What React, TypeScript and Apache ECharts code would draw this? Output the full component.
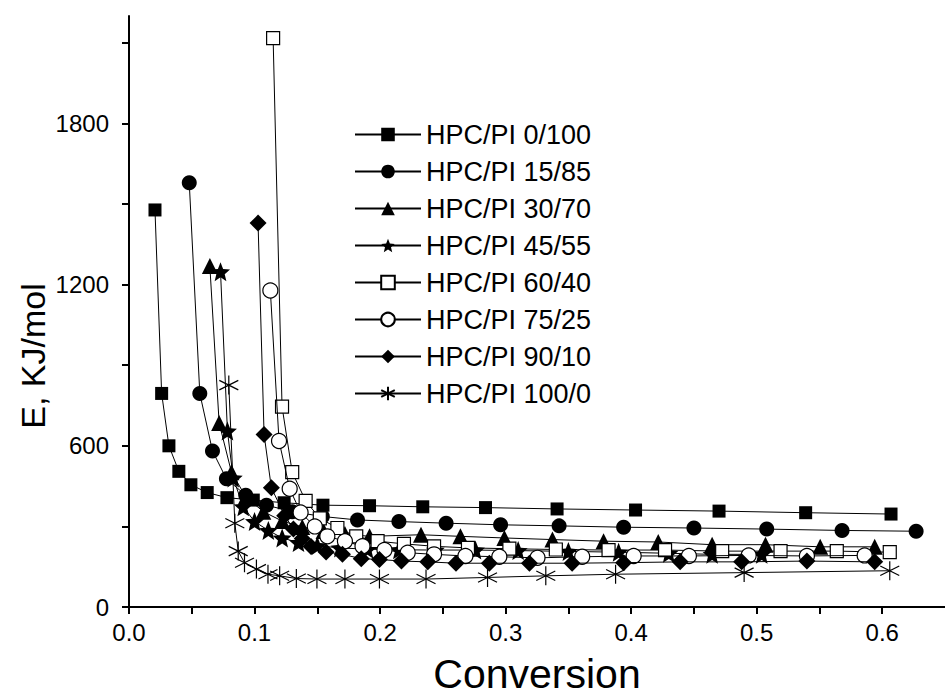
import React, { useEffect, useRef } from "react";
import * as echarts from "echarts";

const seriesNames = [
  "HPC/PI 0/100",
  "HPC/PI 15/85",
  "HPC/PI 30/70",
  "HPC/PI 45/55",
  "HPC/PI 60/40",
  "HPC/PI 75/25",
  "HPC/PI 90/10",
  "HPC/PI 100/0",
];

const x0_100 = [0.0207, 0.026, 0.0318, 0.0397, 0.0493, 0.0623, 0.078, 0.099, 0.1236, 0.1545, 0.1916, 0.234, 0.284, 0.341, 0.4035, 0.47, 0.539, 0.607];
const y0_100 = [1478, 795, 600, 505, 455, 426, 407, 398, 388, 379, 377, 373, 370, 365, 361, 357, 351, 346];

const x15_85 = [0.048, 0.0564, 0.0665, 0.0776, 0.093, 0.1095, 0.13, 0.154, 0.182, 0.215, 0.2526, 0.296, 0.3426, 0.394, 0.45, 0.508, 0.568, 0.627];
const y15_85 = [1579, 795, 581, 477, 416, 379, 355, 337, 324, 318, 312, 306, 302, 297, 294, 290, 285, 282];

const x30_70 = [0.0644, 0.0718, 0.0816, 0.093, 0.107, 0.122, 0.138, 0.155, 0.172, 0.1916, 0.2326, 0.264, 0.299, 0.3373, 0.378, 0.4216, 0.4645, 0.507, 0.5506, 0.594];
const y30_70 = [1269, 685, 502, 410, 355, 320, 298, 283, 272, 263, 269, 263, 257, 251, 245, 242, 232, 232, 224, 224];

const x45_55 = [0.0729, 0.0784, 0.083, 0.091, 0.1, 0.111, 0.122, 0.135, 0.15, 0.168, 0.19, 0.215, 0.244, 0.276, 0.31, 0.35, 0.39, 0.43, 0.4645, 0.504];
const y45_55 = [1248, 655, 480, 373, 318, 285, 257, 240, 228, 220, 215, 213, 212, 212, 210, 207, 204, 200, 196, 196];

const x60_40 = [0.1148, 0.1219, 0.13, 0.1407, 0.152, 0.166, 0.181, 0.198, 0.219, 0.243, 0.27, 0.303, 0.34, 0.382, 0.427, 0.4725, 0.519, 0.5638, 0.606];
const y60_40 = [2118, 746, 502, 395, 330, 294, 263, 245, 235, 226, 220, 217, 214, 212, 212, 208, 208, 208, 204];

const x75_25 = [0.1126, 0.1195, 0.128, 0.1367, 0.148, 0.158, 0.172, 0.186, 0.2035, 0.222, 0.243, 0.268, 0.295, 0.3254, 0.361, 0.402, 0.446, 0.4936, 0.54, 0.586];
const y75_25 = [1178, 618, 440, 352, 300, 263, 245, 226, 212, 202, 196, 190, 187, 183, 187, 190, 190, 192, 190, 192];

const x90_10 = [0.1028, 0.1076, 0.1134, 0.124, 0.131, 0.138, 0.145, 0.157, 0.17, 0.185, 0.1995, 0.217, 0.238, 0.2605, 0.287, 0.319, 0.353, 0.394, 0.439, 0.488, 0.54, 0.594];
const y90_10 = [1429, 642, 444, 340, 290, 255, 225, 205, 196, 180, 177, 171, 168, 163, 163, 163, 163, 165, 168, 168, 171, 168];

const x100_0 = [0.0795, 0.0843, 0.087, 0.092, 0.1015, 0.1107, 0.12, 0.1333, 0.1497, 0.172, 0.1995, 0.2366, 0.2856, 0.332, 0.3876, 0.49, 0.606];
const y100_0 = [826, 312, 208, 165, 141, 122, 116, 106, 104, 104, 104, 104, 110, 116, 122, 128, 135];

const xTickLabels = ["0.0", "0.1", "0.2", "0.3", "0.4", "0.5", "0.6"];
const yTickLabels = ["0", "600", "1200", "1800"];

const STAR = "path://M0,-10L2.6,-3.6L9.51,-3.09L4.2,1.4L5.88,8.09L0,4.4L-5.88,8.09L-4.2,1.4L-9.51,-3.09L-2.6,-3.6Z";
const ASTER = "path://M0,-10L0,10M-8.7,-5L8.7,5M-8.7,5L8.7,-5";

const FONT = "'Liberation Sans', Arial, Helvetica, sans-serif";

function zip(xs: number[], ys: number[]) {
  return xs.map((x, i) => [x, ys[i]]);
}

export default function App() {
  const ref = useRef<HTMLDivElement>(null);
  useEffect(() => {
    if (!ref.current) return;
    const chart = echarts.init(ref.current, undefined, { renderer: "svg" });
    const dataSets = [
      zip(x0_100, y0_100),
      zip(x15_85, y15_85),
      zip(x30_70, y30_70),
      zip(x45_55, y45_55),
      zip(x60_40, y60_40),
      zip(x75_25, y75_25),
      zip(x90_10, y90_10),
      zip(x100_0, y100_0),
    ];
    const markers = [
      { symbol: "rect", size: 13, fill: "#000" },
      { symbol: "circle", size: 15, fill: "#000" },
      { symbol: "triangle", size: 16, fill: "#000" },
      { symbol: STAR, size: 19, fill: "#000" },
      { symbol: "rect", size: 13, fill: "#fff" },
      { symbol: "circle", size: 15, fill: "#fff" },
      { symbol: "diamond", size: 17, fill: "#000" },
      { symbol: ASTER, size: 19, fill: "transparent" },
    ];
    const series = seriesNames.map((name, i) => ({
      name,
      type: "line",
      data: dataSets[i],
      symbol: markers[i].symbol,
      symbolSize: markers[i].size,
      showAllSymbol: true,
      silent: true,
      lineStyle: { color: "#000", width: 1 },
      itemStyle: {
        color: markers[i].fill,
        borderColor: "#000",
        borderWidth: markers[i].fill === "#000" ? 0 : 1.2,
      },
      z: 2 + i,
    }));
    chart.setOption({
      animation: false,
      backgroundColor: "#fff",
      grid: { left: 129, right: 0, top: 16, bottom: 84, containLabel: false },
      xAxis: {
        type: "value",
        min: 0,
        max: 0.65,
        interval: 0.05,
        splitLine: { show: false },
        axisLine: { lineStyle: { color: "#000", width: 2 } },
        axisTick: { length: 7, lineStyle: { color: "#000", width: 2 } },
        axisLabel: {
          color: "#000",
          fontFamily: FONT,
          fontSize: 24,
          margin: 13,
          showMaxLabel: false,
          formatter: (v: number) => {
            const k = Math.round(v * 10);
            return Math.abs(v * 10 - k) < 1e-6 && k < xTickLabels.length ? xTickLabels[k] : "";
          },
        },
        name: "Conversion",
        nameLocation: "middle",
        nameGap: 46,
        nameTextStyle: { color: "#000", fontFamily: FONT, fontSize: 41 },
      },
      yAxis: {
        type: "value",
        min: 0,
        max: 2200,
        interval: 300,
        splitLine: { show: false },
        axisLine: { lineStyle: { color: "#000", width: 2 } },
        axisTick: { length: 7, lineStyle: { color: "#000", width: 2 } },
        axisLabel: {
          color: "#000",
          fontFamily: FONT,
          fontSize: 24,
          margin: 20,
          showMaxLabel: false,
          formatter: (v: number) => {
            const k = Math.round(v / 600);
            return Math.abs(v - k * 600) < 1e-6 && k < yTickLabels.length ? yTickLabels[k] : "";
          },
        },
      },
      legend: {
        orient: "vertical",
        left: 354,
        top: 121,
        padding: 0,
        itemWidth: 66,
        itemHeight: 17,
        itemGap: 10,
        data: seriesNames,
        textStyle: { color: "#000", fontFamily: FONT, fontSize: 27, lineHeight: 27 },
        selectedMode: false,
      },
      graphic: [
        {
          type: "text",
          x: 33,
          y: 356,
          rotation: Math.PI / 2,
          style: {
            text: "E, KJ/mol",
            fontFamily: FONT,
            fontSize: 34,
            fill: "#000",
            align: "center",
            verticalAlign: "middle",
          },
        },
      ],
      series,
    });
    return () => chart.dispose();
  }, []);
  return (
    <div
      ref={ref}
      style={{ position: "fixed", left: 0, top: 0, width: 945, height: 699, background: "#fff" }}
    />
  );
}
